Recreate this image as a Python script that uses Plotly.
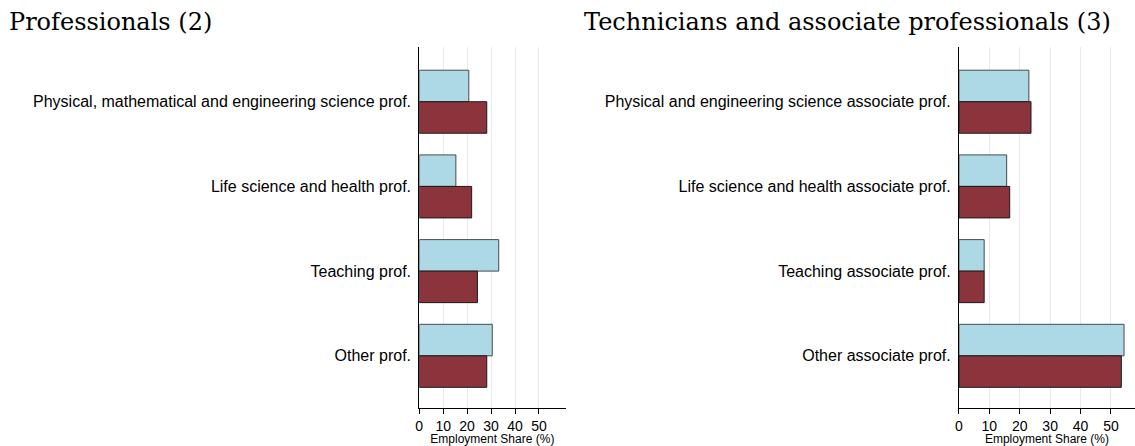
import plotly.graph_objects as go

# Data
cats_left = ["Physical, mathematical and engineering science prof.",
             "Life science and health prof.",
             "Teaching prof.",
             "Other prof."]
left_blue = [20.7, 15.3, 33.2, 30.5]
left_red = [28.2, 21.9, 24.3, 28.2]

cats_right = ["Physical and engineering science associate prof.",
              "Life science and health associate prof.",
              "Teaching associate prof.",
              "Other associate prof."]
right_blue = [23.0, 15.7, 8.3, 54.3]
right_red = [23.7, 16.7, 8.3, 53.4]

tick_vals = [0, 10, 20, 30, 40, 50]
titles = ["Professionals (2)", "Technicians and associate professionals (3)"]
axis_title = "Employment Share (%)"

BLUE = "#ADD8E6"
RED = "#8B343C"
W = 1135

fig = go.Figure()

fig.add_trace(go.Bar(y=cats_left, x=left_blue, orientation="h", marker=dict(color=BLUE, line=dict(color="#4a4a4a", width=1)),
                     xaxis="x", yaxis="y", showlegend=False))
fig.add_trace(go.Bar(y=cats_left, x=left_red, orientation="h", marker=dict(color=RED, line=dict(color="#1a1a1a", width=1)),
                     xaxis="x", yaxis="y", showlegend=False))
fig.add_trace(go.Bar(y=cats_right, x=right_blue, orientation="h", marker=dict(color=BLUE, line=dict(color="#4a4a4a", width=1)),
                     xaxis="x2", yaxis="y2", showlegend=False))
fig.add_trace(go.Bar(y=cats_right, x=right_red, orientation="h", marker=dict(color=RED, line=dict(color="#1a1a1a", width=1)),
                     xaxis="x2", yaxis="y2", showlegend=False))

xcommon = dict(tickvals=tick_vals, ticks="outside", ticklen=5, tickcolor="black", tickwidth=1,
               showline=True, linecolor="black", linewidth=1, showgrid=True, gridcolor="#e4ecf1", gridwidth=1,
               zeroline=False, tickfont=dict(family="Liberation Sans", size=14, color="black"),
               title=dict(text=axis_title, font=dict(family="Liberation Sans", size=12, color="black"), standoff=2))
ycommon = dict(showline=True, linecolor="black", linewidth=1, ticks="", showgrid=False,
               tickfont=dict(family="Liberation Sans", size=16, color="black"),
               ticklabelstandoff=4,
               range=[3.616, -0.646])

fig.update_layout(
    width=W, height=446,
    margin=dict(l=0, r=0, t=47, b=38),
    plot_bgcolor="white", paper_bgcolor="white",
    barmode="group", bargap=0.256, bargroupgap=0,
    xaxis=dict(domain=[416.7 / W, 563.5 / W], range=[0, 61.1], anchor="y", **xcommon),
    yaxis=dict(domain=[0, 1], anchor="x", **ycommon),
    xaxis2=dict(domain=[958.3 / W, 1.0], range=[0, 57.9], anchor="y2", **xcommon),
    yaxis2=dict(domain=[0, 1], anchor="x2", **ycommon),
    annotations=[
        dict(text=titles[0], xref="paper", yref="paper", x=3 / W, y=1, xanchor="left", yanchor="middle",
             yshift=25, showarrow=False, font=dict(family="DejaVu Serif", size=24, color="black")),
        dict(text=titles[1], xref="paper", yref="paper", x=580 / W, y=1, xanchor="left", yanchor="middle",
             yshift=25, showarrow=False, font=dict(family="DejaVu Serif", size=24, color="black")),
    ],
)

fig.write_html("out.html", config={"displayModeBar": False},
               post_script="document.body.style.margin='0px';document.body.style.overflow='hidden';")
